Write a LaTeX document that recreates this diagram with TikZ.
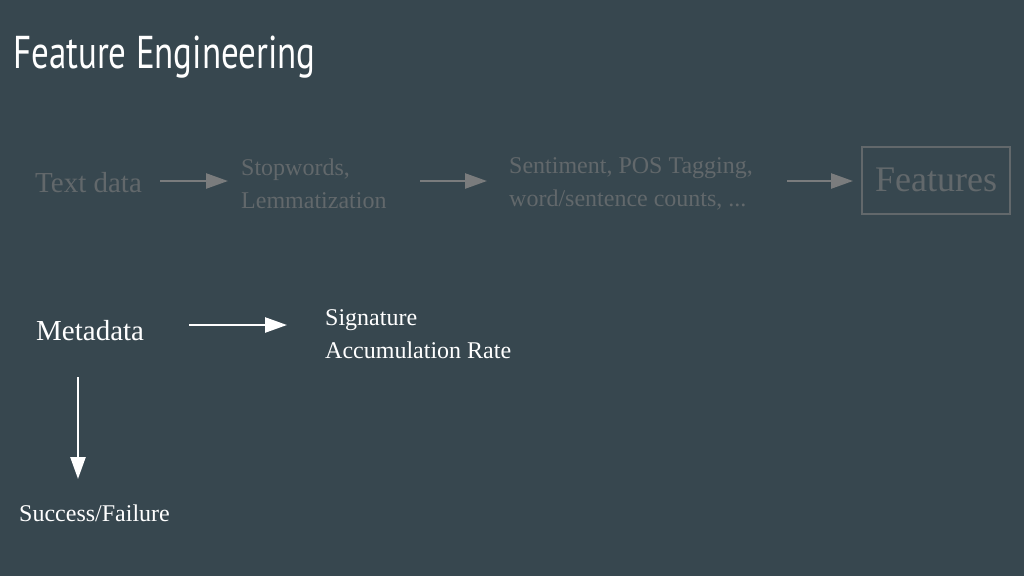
\documentclass[tikz,border=0pt]{standalone}
\usepackage{fontspec}
\setmainfont{Liberation Serif}
\newfontfamily\titlefont{PT Sans}
\usetikzlibrary{arrows.meta}
\definecolor{bg}{HTML}{37474F}
\definecolor{dim}{HTML}{62686B}
\definecolor{dimarrow}{HTML}{7A7C7D}
\begin{document}
\begin{tikzpicture}[x=1pt,y=-1pt,
  dimtxt/.style={text=dim,inner sep=0pt,anchor=base west,font=\fontsize{24}{33}\selectfont,align=left},
  brighttxt/.style={text=white,inner sep=0pt,anchor=base west,font=\fontsize{24}{33}\selectfont,align=left},
  dimarr/.style={draw=dimarrow,line width=2.5pt,-{Triangle[length=22pt,width=15pt]}},
  whitearr/.style={draw=white,line width=2.5pt,-{Triangle[length=22pt,width=15pt]}}]
\fill[bg] (0,0) rectangle (1024,576);
\useasboundingbox (0,0) rectangle (1024,576);
\node[inner sep=0pt,anchor=base west,text=white] (title) at (13,68)
  {\scalebox{0.76}[1]{\titlefont\fontsize{46}{50}\selectfont Feature Engineering}};
\node[dimtxt,font=\fontsize{29}{30}\selectfont] (text) at (35,192) {Text data};
\node[dimtxt,anchor=north west] (stop) at (241,158.5) {Stopwords,\\Lemmatization};
\node[dimtxt,anchor=north west] (sent) at (509,157.5) {Sentiment, POS Tagging,\\word/sentence counts, ...};
\node[draw=dim,line width=2pt,text=dim,minimum width=148pt,minimum height=67pt,
  font=\fontsize{36}{38}\selectfont,inner sep=0pt] (feat) at (936,180) {Features};
\coordinate (a1s) at (160,181); \coordinate (a1e) at (228,181);
\coordinate (a2s) at (420,181); \coordinate (a2e) at (487,181);
\coordinate (a3s) at (787,181); \coordinate (a3e) at (853,181);
\draw[dimarr] (a1s) -- (a1e);
\draw[dimarr] (a2s) -- (a2e);
\draw[dimarr] (a3s) -- (a3e);
\node[brighttxt,font=\fontsize{29}{30}\selectfont] (meta) at (36,340) {Metadata};
\node[brighttxt,anchor=north west] (sig) at (325,309.5) {Signature\\Accumulation Rate};
\node[brighttxt] (succ) at (19,521) {Success/Failure};
\coordinate (m1s) at (189,325); \coordinate (m1e) at (287,325);
\coordinate (m2s) at (78,377); \coordinate (m2e) at (78,479);
\draw[whitearr] (m1s) -- (m1e);
\draw[whitearr] (m2s) -- (m2e);
\end{tikzpicture}
\end{document}
